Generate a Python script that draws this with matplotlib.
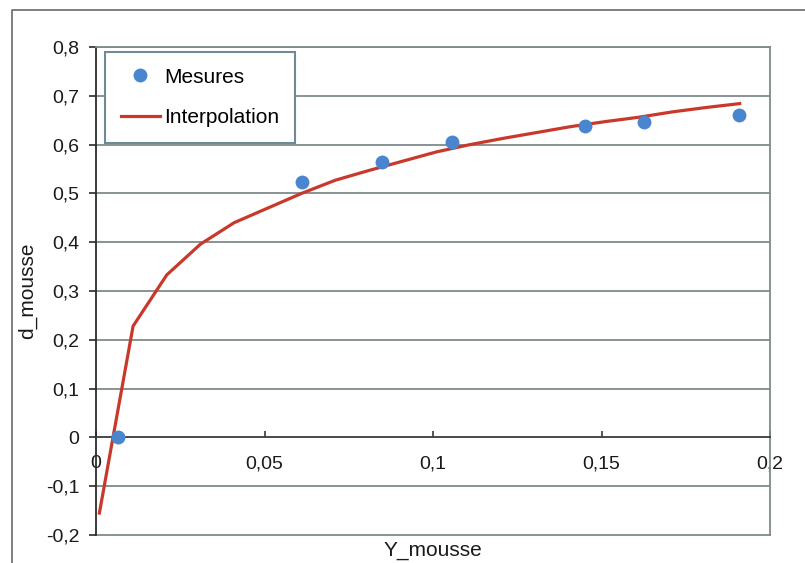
import numpy as np
import matplotlib
matplotlib.use('Agg')
import matplotlib.pyplot as plt
from matplotlib.ticker import FuncFormatter, MultipleLocator
from matplotlib.lines import Line2D

plt.rcParams['font.family'] = ['Liberation Sans', 'DejaVu Sans']

# mesures
y_mesure = [0.0065, 0.061, 0.0848, 0.1057, 0.145, 0.1626, 0.1907]
d_mesure = [0.0, 0.523, 0.564, 0.605, 0.638, 0.647, 0.660]

# courbe d'interpolation
y_interp = [0.001, 0.011, 0.021, 0.031, 0.041, 0.051, 0.061, 0.071, 0.081, 0.091,
            0.101, 0.111, 0.121, 0.131, 0.141, 0.151, 0.161, 0.171, 0.181, 0.191]
d_interp = [-0.155, 0.228, 0.333, 0.396, 0.440, 0.470, 0.500, 0.527, 0.547, 0.566,
            0.585, 0.600, 0.613, 0.625, 0.637, 0.647, 0.656, 0.667, 0.676, 0.684]

W, H = 805, 563
fig = plt.figure(figsize=(W/100, H/100), dpi=100)
ax = fig.add_axes([96/W, 1-535/H, (770-96)/W, (535-47)/H])

grid_c = '#7f8a8e'
ax.set_xlim(0, 0.2)
ax.set_ylim(-0.2, 0.8)
ax.yaxis.set_major_locator(MultipleLocator(0.1))
ax.xaxis.set_major_locator(MultipleLocator(0.05))

fmt = FuncFormatter(lambda v, p: ('%g' % round(v, 3)).replace('.', ','))
ax.xaxis.set_major_formatter(fmt)
ax.yaxis.set_major_formatter(fmt)

for yv in np.arange(-0.1, 0.85, 0.1):
    if abs(yv) > 1e-9:
        ax.axhline(yv, color=grid_c, lw=1.3, zorder=1)

for s in ['top', 'right']:
    ax.spines[s].set_color(grid_c)
    ax.spines[s].set_linewidth(1.3)
ax.spines['left'].set_color('#2b2b2b')
ax.spines['left'].set_linewidth(1.3)
ax.spines['bottom'].set_position(('data', 0))
ax.spines['bottom'].set_color('#3a3a3a')
ax.spines['bottom'].set_linewidth(1.3)
ax.axhline(-0.2, color=grid_c, lw=1.3, zorder=1, clip_on=False)

ax.tick_params(axis='y', direction='out', length=5, width=1.2, color='#2b2b2b',
               labelsize=14, pad=7, colors='#1a1a1a')
ax.tick_params(axis='x', direction='in', length=4, width=1.2, color='#3a3a3a',
               labelsize=14, pad=13, colors='#1a1a1a')

ax.plot(y_interp, d_interp, color='#c8392b', lw=2.3, zorder=3, label='Interpolation')
ax.plot(y_mesure, d_mesure, 'o', color='#4a86cf', ms=10, zorder=4, label='Mesures',
        markeredgewidth=0)

h, l = ax.get_legend_handles_labels()
leg = ax.legend(h[::-1], l[::-1], loc='upper left', bbox_to_anchor=(0.0134, 0.99),
                borderaxespad=0, fontsize=15, frameon=True, fancybox=False,
                labelspacing=1.05, handlelength=1.9, handletextpad=0.2,
                borderpad=0.75)
leg.get_frame().set_edgecolor('#6f8a92')
leg.get_frame().set_linewidth(1.5)
leg.get_frame().set_facecolor('white')
leg.get_frame().set_alpha(1)

fig.text(433/W, 1-550/H, 'Y_mousse', ha='center', va='center', fontsize=15, color='#1a1a1a')
fig.text(27/W, 1-291/H, 'd_mousse', ha='center', va='center', rotation=90,
         fontsize=15, color='#1a1a1a')

# cadre du graphique
fig.add_artist(Line2D([12/W, 12/W, 1.0], [0.0, 1-10/H, 1-10/H], color='#6a6a6a', lw=1.2,
                      transform=fig.transFigure))

fig.savefig('out.png', dpi=100)
